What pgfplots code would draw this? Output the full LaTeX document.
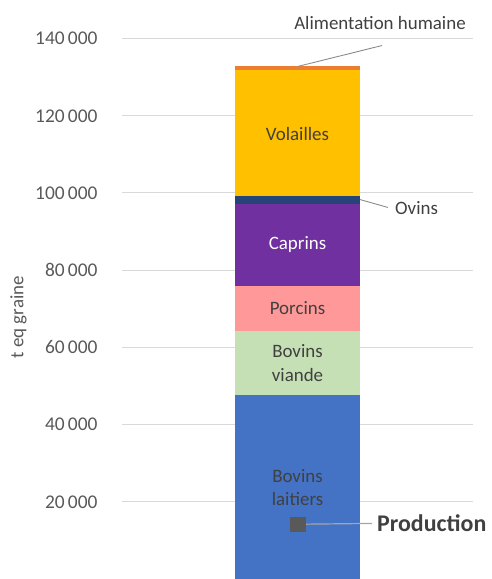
\documentclass[border=0pt]{standalone}
\usepackage{pgfplots}
\pgfplotsset{compat=1.18}
\usepackage{fontspec}
\setmainfont{Carlito}
\definecolor{cBL}{HTML}{4472C4}
\definecolor{cBV}{HTML}{C5E0B4}
\definecolor{cPO}{HTML}{FF9999}
\definecolor{cCA}{HTML}{7030A0}
\definecolor{cOV}{HTML}{264478}
\definecolor{cVO}{HTML}{FFC000}
\definecolor{cAH}{HTML}{ED7D31}
\definecolor{cTxt}{HTML}{404040}
\definecolor{cTick}{HTML}{595959}
\definecolor{cGrid}{HTML}{D9D9D9}
\pgfplotsset{base/.style={
  scale only axis, width=351bp, height=579bp,
  xmin=0, xmax=351, ymin=0, ymax=150000,
  at={(0,0)}, anchor=south west, clip=false}}
\begin{document}
\begin{tikzpicture}
\path[use as bounding box] (-122bp,0bp) rectangle (370bp,579bp);
\begin{axis}[base,
  ybar stacked, bar width=125bp,
  axis line style={draw=none}, major tick length=0pt,
  xtick=\empty, scaled y ticks=false,
  ytick={20000,40000,60000,80000,100000,120000,140000},
  yticklabels={20\,000,40\,000,60\,000,80\,000,100\,000,120\,000,140\,000},
  yticklabel style={font=\fontsize{19.5}{21}\selectfont, text=cTick, anchor=east, xshift=-21bp},
  ymajorgrids, grid style={draw=cGrid, line width=1bp},
]
\addplot[fill=cBL, draw=none] coordinates {(175.5,47640)};
\addplot[fill=cBV, draw=none] coordinates {(175.5,16560)};
\addplot[fill=cPO, draw=none] coordinates {(175.5,11810)};
\addplot[fill=cCA, draw=none] coordinates {(175.5,21060)};
\addplot[fill=cOV, draw=none] coordinates {(175.5,2260)};
\addplot[fill=cVO, draw=none] coordinates {(175.5,32470)};
\addplot[fill=cAH, draw=none] coordinates {(175.5,1200)};
\end{axis}
\begin{axis}[base, hide axis]
\node[text=cTxt, align=center, font=\fontsize{19}{24}\selectfont] at (axis cs:175.5,23700) {Bovins\\laitiers};
\node[text=cTxt, align=center, font=\fontsize{19}{24}\selectfont] at (axis cs:175.5,55920) {Bovins\\viande};
\node[text=cTxt, font=\fontsize{19}{23}\selectfont] at (axis cs:175.5,70100) {Porcins};
\node[text=white, font=\fontsize{19}{23}\selectfont] at (axis cs:175.5,86600) {Caprins};
\node[text=cTxt, font=\fontsize{19}{23}\selectfont] at (axis cs:175.5,115300) {Volailles};
\node[text=cTxt, anchor=west, inner sep=0pt, font=\fontsize{19}{23}\selectfont] at (axis cs:273,96000) {Ovins};
\node[text=cTxt, font=\fontsize{19}{23}\selectfont] at (axis cs:258,144000) {Alimentation humaine};
\node[text=cTick, rotate=90, font=\fontsize{19}{23}\selectfont] at (axis cs:-103.5,67800) {t eq graine};
\draw[cTick!70, line width=0.9bp] (axis cs:238,98300) -- (axis cs:266,96250);
\draw[cTick!70, line width=0.9bp] (axis cs:176,132800) -- (axis cs:260,138200);
\draw[black!35, line width=1.2bp] (axis cs:182,14200) -- (axis cs:250,14400);
\node[text=cTxt, anchor=west, inner sep=0pt, font=\fontsize{24}{28}\selectfont\bfseries] at (axis cs:255,14350) {Production};
\addplot[only marks, mark=square*, mark size=7.2bp, color=cTick] coordinates {(175.5,14200)};
\end{axis}
\end{tikzpicture}
\end{document}
